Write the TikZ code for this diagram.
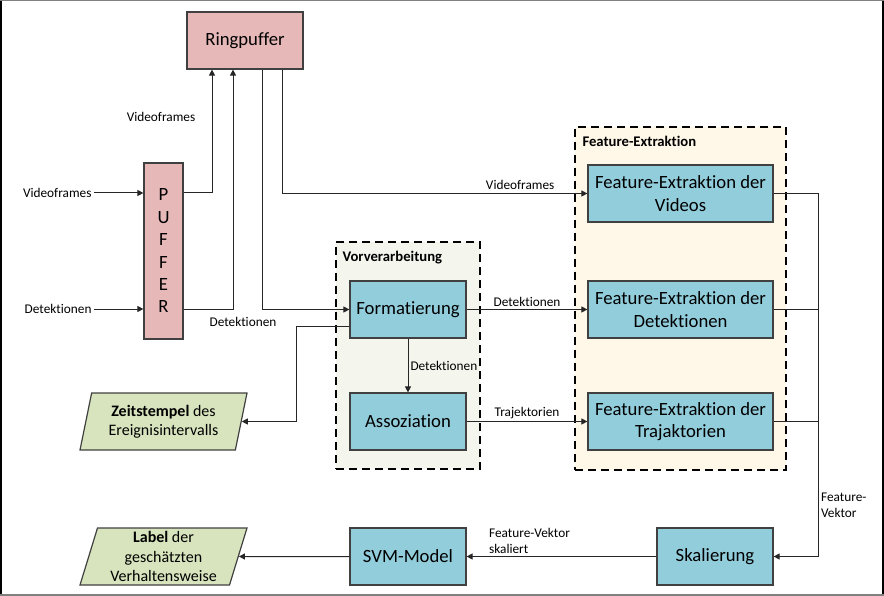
\documentclass[tikz,border=0pt]{standalone}
\usepackage{fontspec}
\setmainfont{Carlito}[Ligatures=CommonOff]
\usetikzlibrary{positioning, arrows.meta, shapes.geometric}

\definecolor{pufferrot}{HTML}{E6B9B8}
\definecolor{boxblau}{HTML}{92CDDC}
\definecolor{ausgabegruen}{HTML}{D7E4BD}
\definecolor{vorgrund}{HTML}{F4F6EE}
\definecolor{featgrund}{HTML}{FFF8E8}
\definecolor{rand}{HTML}{404040}

\begin{document}
\begin{tikzpicture}[x=1pt, y=-1pt, node distance={116pt}, line width=1pt,
  box/.style = {draw=rand, line width=1.2pt, minimum width=116pt, minimum height=57pt, align=center, font=\fontsize{18.7}{22.4}\selectfont},
  rot/.style = {box, fill=pufferrot},
  blau/.style = {box, fill=boxblau},
  ausgabe/.style = {draw=rand, line width=1.2pt, fill=ausgabegruen, trapezium, trapezium left angle=70.7, trapezium right angle=109.3, trapezium stretches body=true, minimum width=167pt, minimum height=57pt, align=center, inner sep=0pt, font=\fontsize{16}{19.3}\selectfont},
  gruppe/.style = {draw=black, dash pattern=on 8pt off 5pt, line width=1.3pt},
  titel/.style = {font=\bfseries\fontsize{14.7}{17}\selectfont, anchor=west, inner sep=0pt},
  klein/.style = {font=\fontsize{13.3}{16}\selectfont, inner sep=2pt},
  pfeil/.style = {draw=black!85, -{Triangle[length=6pt, width=6pt]}},
  linie/.style = {draw=black!85}]
  \useasboundingbox (0,0) rectangle (884,596);

  \node[gruppe, fill=vorgrund, minimum width=144pt, minimum height=227pt] (vor) at (408,355.5) {};
  \node[titel] (vortitel) at (342,258) {Vorverarbeitung};
  \node[gruppe, fill=featgrund, minimum width=211pt, minimum height=343pt] (feat) at (680.5,298.5) {};
  \node[titel] (feattitel) at (582,141) {Feature-Extraktion};

  \node[rot] (ring) at (245,40.5) {Ringpuffer};
  \node[rot, minimum width=39pt, minimum height=176pt, inner sep=0pt] (puffer) at (163.5,251) {P\\U\\F\\F\\E\\R};
  \node[blau] (fmt) at (408,309.5) {Formatierung};
  \node[blau] (asso) [node distance=112pt, below of=fmt] {Assoziation};
  \node[blau, minimum width=185pt] (fed) [node distance=272.5pt, right of=fmt] {Feature-Extraktion der\\Detektionen};
  \node[blau, minimum width=185pt] (fev) [above of=fed] {Feature-Extraktion der\\Videos};
  \node[blau, minimum width=185pt] (fet) [node distance=112pt, below of=fed] {Feature-Extraktion der\\Trajaktorien};
  \node[blau] (svm) [node distance=135pt, below of=asso] {SVM-Model};
  \node[blau] (skal) [node distance=307pt, right of=svm] {Skalierung};
  \node[ausgabe] (zeit) [node distance=244.5pt, left of=asso] {\textbf{Zeitstempel} des\\Ereignisintervalls};
  \node[ausgabe] (lbl) [node distance=244.5pt, left of=svm] {\textbf{Label} der\\geschätzten\\Verhaltensweise};

  \node[klein, anchor=east] (vin) at (94,193) {Videoframes};
  \node[klein, anchor=east] (din) at (94,309) {Detektionen};
  \node[klein] (vlabel) at (161,117) {Videoframes};
  \node[klein] (dlabel) at (243,322) {Detektionen};

  \draw[pfeil] (vin.east) -- (vin.east -| puffer.west);
  \draw[pfeil] (din.east) -- (din.east -| puffer.west);
  \draw[pfeil] (vin.east -| puffer.east) -| ([xshift=-33pt]ring.south);
  \draw[pfeil] (din.east -| puffer.east) -| ([xshift=-12pt]ring.south);
  \draw[pfeil] ([xshift=17pt]ring.south) |- (fmt.west);
  \draw[pfeil] ([xshift=37pt]ring.south) |- (fev.west) node[klein, pos=0.89, above, yshift=1pt] {Videoframes};

  \draw[pfeil] (fmt) -- (asso) node[klein, midway, right] {Detektionen};
  \draw[pfeil] (fmt) -- (fed) node[klein, midway, above] {Detektionen};
  \draw[pfeil] (asso) -- (fet) node[klein, midway, above] {Trajektorien};
  \draw[pfeil] ([yshift=-16.5pt]fmt.west) -- ++(-53,0) |- (zeit.east);

  \draw[linie] (fed.east) -- ++(45,0);
  \draw[linie] (fet.east) -- ++(45,0);
  \draw[pfeil] (fev.east) -- ++(45,0) |- (skal.east) node[klein, pos=0.43, right, align=left] {Feature-\\Vektor};
  \draw[pfeil] (skal) -- (svm) node[klein, pos=1, anchor=south west, xshift=20pt, align=left] {Feature-Vektor\\skaliert};
  \draw[pfeil] (svm) -- (lbl);

  \draw[black, line width=2pt] (1,0) -- (1,596);
  \draw[black, line width=2pt] (883,0) -- (883,596);
  \draw[gray, line width=1pt] (0,0.5) -- (884,0.5);
  \draw[gray, line width=2.5pt] (0,594.8) -- (884,594.8);
\end{tikzpicture}
\end{document}
